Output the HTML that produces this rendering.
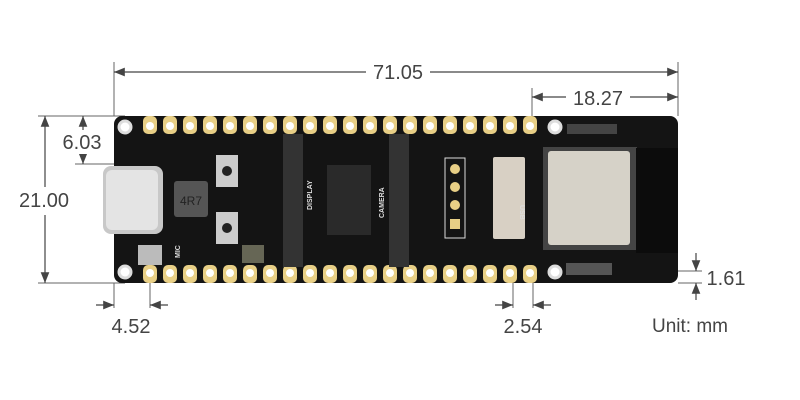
<!DOCTYPE html>
<html><head><style>
html,body{margin:0;padding:0;background:#fff;}
svg{display:block;}
text{font-family:"Liberation Sans",sans-serif;}
</style></head><body>
<svg width="800" height="400" viewBox="0 0 800 400" xmlns="http://www.w3.org/2000/svg">
<defs>
<marker id="a" viewBox="0 0 10 10" refX="10" refY="5" markerWidth="9" markerHeight="9" orient="auto-start-reverse"><path d="M0,1 L10,5 L0,9 z" fill="#444"/></marker>
</defs>
<g stroke="#666" stroke-width="1" fill="none">
<line x1="114" y1="62" x2="114" y2="116"/>
<line x1="678" y1="62" x2="678" y2="116"/>
<line x1="532" y1="88" x2="532" y2="118"/>
<line x1="38" y1="116" x2="125" y2="116"/>
<line x1="38" y1="283" x2="125" y2="283"/>
<line x1="75" y1="164" x2="120" y2="164"/>
<line x1="114" y1="283" x2="114" y2="308"/>
<line x1="150" y1="283" x2="150" y2="308"/>
<line x1="513" y1="283" x2="513" y2="308"/>
<line x1="533" y1="283" x2="533" y2="308"/>
<line x1="560" y1="271" x2="702" y2="271"/>
<line x1="678" y1="283" x2="702" y2="283"/>
</g>
<g stroke="#444" stroke-width="1.2" fill="none">
<line x1="114" y1="72" x2="678" y2="72" marker-start="url(#a)" marker-end="url(#a)"/>
<line x1="532" y1="97" x2="678" y2="97" marker-start="url(#a)" marker-end="url(#a)"/>
<line x1="45" y1="116" x2="45" y2="283" marker-start="url(#a)" marker-end="url(#a)"/>
<line x1="83" y1="116" x2="83" y2="164" marker-start="url(#a)" marker-end="url(#a)"/>
<line x1="96" y1="305" x2="114" y2="305" marker-end="url(#a)"/>
<line x1="168" y1="305" x2="150" y2="305" marker-end="url(#a)"/>
<line x1="495" y1="305" x2="513" y2="305" marker-end="url(#a)"/>
<line x1="551" y1="305" x2="533" y2="305" marker-end="url(#a)"/>
<line x1="696" y1="253" x2="696" y2="271" marker-end="url(#a)"/>
<line x1="696" y1="300" x2="696" y2="283" marker-end="url(#a)"/>
</g>
<g fill="#444" font-size="20">
<rect x="366" y="60" width="64" height="24" fill="#fff"/>
<text x="398" y="79" text-anchor="middle">71.05</text>
<rect x="566" y="86" width="64" height="22" fill="#fff"/>
<text x="598" y="105" text-anchor="middle">18.27</text>
<rect x="13" y="187" width="62" height="28" fill="#fff"/>
<text x="44" y="207" text-anchor="middle">21.00</text>
<rect x="58" y="130" width="50" height="24" fill="#fff"/>
<text x="82" y="149" text-anchor="middle">6.03</text>
<text x="131" y="333" text-anchor="middle">4.52</text>
<text x="523" y="333" text-anchor="middle">2.54</text>
<text x="726" y="285" text-anchor="middle">1.61</text>
<text x="652" y="332" font-size="19">Unit: mm</text>
</g>
<rect x="114" y="116" width="564" height="167" rx="8" fill="#141414"/>
<g fill="#e8cf86">
<g id="tp">
<rect x="143" y="116" width="14" height="18" rx="5"/><rect x="163" y="116" width="14" height="18" rx="5"/>
<rect x="183" y="116" width="14" height="18" rx="5"/><rect x="203" y="116" width="14" height="18" rx="5"/>
<rect x="223" y="116" width="14" height="18" rx="5"/><rect x="243" y="116" width="14" height="18" rx="5"/>
<rect x="263" y="116" width="14" height="18" rx="5"/><rect x="283" y="116" width="14" height="18" rx="5"/>
<rect x="303" y="116" width="14" height="18" rx="5"/><rect x="323" y="116" width="14" height="18" rx="5"/>
<rect x="343" y="116" width="14" height="18" rx="5"/><rect x="363" y="116" width="14" height="18" rx="5"/>
<rect x="383" y="116" width="14" height="18" rx="5"/><rect x="403" y="116" width="14" height="18" rx="5"/>
<rect x="423" y="116" width="14" height="18" rx="5"/><rect x="443" y="116" width="14" height="18" rx="5"/>
<rect x="463" y="116" width="14" height="18" rx="5"/><rect x="483" y="116" width="14" height="18" rx="5"/>
<rect x="503" y="116" width="14" height="18" rx="5"/><rect x="523" y="116" width="14" height="18" rx="5"/>
</g>
<use href="#tp" y="149"/>
</g>
<g fill="#fff">
<g id="th">
<circle cx="150" cy="126" r="4"/><circle cx="170" cy="126" r="4"/><circle cx="190" cy="126" r="4"/><circle cx="210" cy="126" r="4"/><circle cx="230" cy="126" r="4"/><circle cx="250" cy="126" r="4"/><circle cx="270" cy="126" r="4"/><circle cx="290" cy="126" r="4"/><circle cx="310" cy="126" r="4"/><circle cx="330" cy="126" r="4"/><circle cx="350" cy="126" r="4"/><circle cx="370" cy="126" r="4"/><circle cx="390" cy="126" r="4"/><circle cx="410" cy="126" r="4"/><circle cx="430" cy="126" r="4"/><circle cx="450" cy="126" r="4"/><circle cx="470" cy="126" r="4"/><circle cx="490" cy="126" r="4"/><circle cx="510" cy="126" r="4"/><circle cx="530" cy="126" r="4"/>
</g>
<use href="#th" y="147"/>
</g>
<g fill="#fff" stroke="#ddd" stroke-width="3">
<circle cx="125" cy="127" r="6"/><circle cx="125" cy="272" r="6"/>
<circle cx="555" cy="127" r="6"/><circle cx="555" cy="272" r="6"/>
</g>
<rect x="103" y="166" width="60" height="68" rx="8" fill="#c8c8c8"/>
<rect x="106" y="170" width="52" height="60" rx="6" fill="#e4e4e4"/>
<rect x="174" y="181" width="34" height="36" rx="3" fill="#555"/>
<text x="191" y="205" font-size="12" fill="#222" text-anchor="middle">4R7</text>
<rect x="216" y="155" width="22" height="32" fill="#ccc"/><circle cx="227" cy="171" r="5" fill="#222"/>
<rect x="216" y="212" width="22" height="32" fill="#ccc"/><circle cx="227" cy="228" r="5" fill="#222"/>
<rect x="138" y="245" width="24" height="20" fill="#bbb"/>
<rect x="242" y="245" width="22" height="18" fill="#665"/>
<rect x="283" y="134" width="20" height="133" fill="#333"/>
<rect x="389" y="134" width="20" height="133" fill="#333"/>
<rect x="327" y="165" width="44" height="70" fill="#2a2a2a"/>
<rect x="445" y="158" width="20" height="80" fill="none" stroke="#ddd"/>
<g fill="#e8cf86"><circle cx="455" cy="169" r="5"/><circle cx="455" cy="187" r="5"/><circle cx="455" cy="205" r="5"/><rect x="450" y="219" width="10" height="10"/></g>
<rect x="493" y="157" width="32" height="82" rx="2" fill="#d8d0c4"/>
<rect x="543" y="147" width="94" height="103" fill="#444"/>
<rect x="548" y="151" width="82" height="94" rx="3" fill="#d6d2c8"/>
<rect x="636" y="148" width="42" height="105" fill="#0c0c0c"/>
<rect x="566" y="263" width="46" height="12" fill="#555"/>
<rect x="567" y="124" width="50" height="10" fill="#444"/>
<g fill="#ddd" font-size="7" font-weight="bold">
<text x="312" y="210" transform="rotate(-90 312 210)">DISPLAY</text>
<text x="384" y="218" transform="rotate(-90 384 218)">CAMERA</text>
<text x="180" y="258" transform="rotate(-90 180 258)">MIC</text>
<text x="520" y="205" transform="rotate(90 520 205)">USB</text>
</g>
</svg>
</body></html>
